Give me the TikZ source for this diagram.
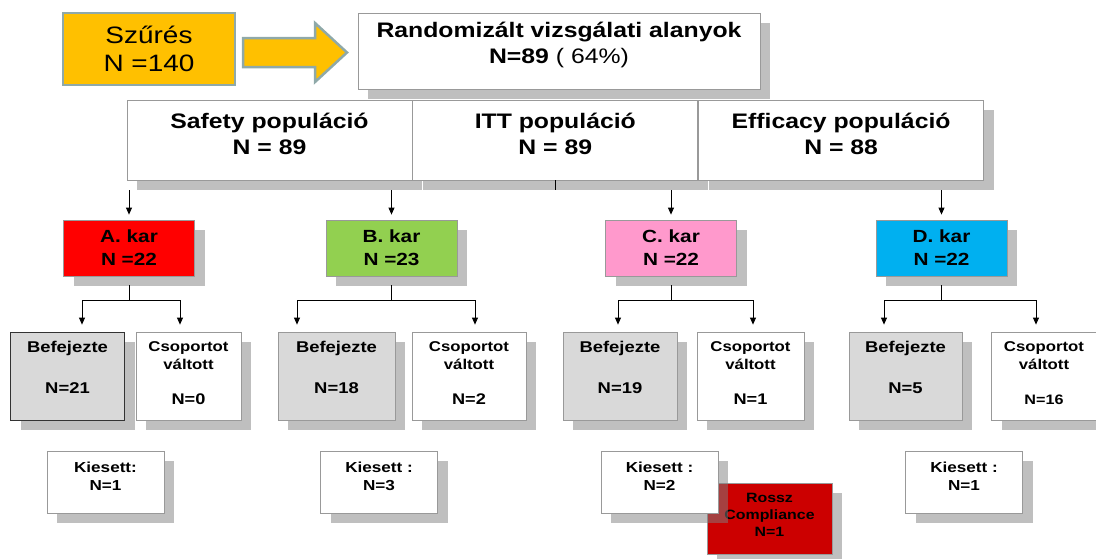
\documentclass[tikz,border=0pt]{standalone}
\usepackage{fontspec}
\setmainfont{Liberation Sans}[FakeStretch=1.18]
\usetikzlibrary{positioning,shadows,arrows.meta,calc}
\definecolor{screenfill}{HTML}{FFC000}
\definecolor{screenline}{HTML}{8FA9A9}
\definecolor{colA}{HTML}{FF0000}
\definecolor{colB}{HTML}{92D050}
\definecolor{colC}{HTML}{FF99CC}
\definecolor{colD}{HTML}{00B0F0}
\definecolor{colRossz}{HTML}{CC0000}
\definecolor{colDone}{HTML}{D9D9D9}

\begin{document}
\begin{tikzpicture}[x=1pt,y=-1pt,
  shad/.style={drop shadow={shadow xshift=10pt,shadow yshift=-10pt,fill=black!50,opacity=.5}},
  box/.style={draw=black!40,fill=white,shad,inner sep=0pt,line width=.8pt},
  popbox/.style={box,minimum width=285pt,minimum height=80pt},
  arm/.style={box,minimum width=131pt,minimum height=56pt,align=center,font=\fontsize{17.6}{23}\selectfont\bfseries},
  bef/.style={box,fill=colDone,minimum width=114pt,minimum height=88pt},
  csop/.style={box,minimum height=88pt},
  kies/.style={box,minimum width=117pt,minimum height=62pt},
  big/.style={align=center,font=\fontsize{21}{26}\selectfont\bfseries},
  befT/.style={align=center,font=\fontsize{15.6}{18.7}\selectfont\bfseries},
  csopT/.style={align=center,font=\fontsize{14.2}{18}\selectfont\bfseries},
  kiesT/.style={align=center,font=\fontsize{14.5}{18}\selectfont\bfseries},
  arr/.style={line width=.8pt,-{Triangle[width=6pt,length=7pt]}},
  link/.style={line width=.8pt}]
\useasboundingbox (0,0) rectangle (1096,558);

% screening and randomisation
\node[draw=screenline,fill=screenfill,line width=2.5pt,minimum width=172pt,minimum height=72pt,inner sep=0pt,
  align=center,font=\fontsize{23.7}{28}\selectfont] (szures) at (149,49) {Szűrés\\N =140};
\draw[draw=screenline,fill=screenfill,line width=2.5pt] (243,38) -- (315,38) -- (315,23) -- (347,52.5)
  -- (315,82) -- (315,67) -- (243,67) -- cycle;
\node[box,minimum width=402pt,minimum height=76pt] (rand) at (559,51) {};
\node[big] (randT) at ([yshift=6pt]rand) {Randomizált vizsgálati alanyok\\N=89 {\mdseries ( 64\%)}};

% populations
\node[popbox] (safety) at (269.5,140) {};
\node[popbox,right=0pt of safety] (itt) {};
\node[popbox,right=0pt of itt] (eff) {};
\node[big] (safetyT) at ([yshift=6pt]safety) {Safety populáció\\N = 89};
\node[big] (ittT) at ([yshift=6pt]itt) {ITT populáció\\N = 89};
\node[big] (effT) at ([yshift=6pt]eff) {Efficacy populáció\\N = 88};
\coordinate (popBase) at (0,190);
\draw[link] (itt.south) -- (itt.south |- popBase);

% arms
\node[arm,fill=colA] (armA) at (129,248) {A. kar\\N =22};
\node[arm,fill=colB] (armB) at (391.5,248) {B. kar\\N =23};
\node[arm,fill=colC] (armC) at (671,248) {C. kar\\N =22};
\node[arm,fill=colD] (armD) at (941.5,248) {D. kar\\N =22};
\draw[arr,shorten >=5pt] (armA |- popBase) -- (armA.north);
\draw[arr,shorten >=5pt] (armB |- popBase) -- (armB.north);
\draw[arr,shorten >=5pt] (armC |- popBase) -- (armC.north);
\draw[arr,shorten >=5pt] (armD |- popBase) -- (armD.north);

% completed / switched
\node[bef,draw=black!80] (befA) at (67.5,376) {};
\node[csop,minimum width=105pt] (csopA) at (188.5,376) {};
\node[bef,minimum width=117pt] (befB) at (336.5,376) {};
\node[csop,minimum width=114pt] (csopB) at (469,376) {};
\node[bef] (befC) at (620,376) {};
\node[csop,minimum width=107pt] (csopC) at (750.5,376) {};
\node[bef,minimum width=113pt] (befD) at (905.5,376) {};
\node[csop,minimum width=105pt] (csopD) at (1044,376) {};
\node[befT] (befAT) at ([yshift=8.5pt]befA) {Befejezte\\[22.3pt]N=21};
\node[befT] (befBT) at ([yshift=8.5pt]befB) {Befejezte\\[22.3pt]N=18};
\node[befT] (befCT) at ([yshift=8.5pt]befC) {Befejezte\\[22.3pt]N=19};
\node[befT] (befDT) at ([yshift=8.5pt]befD) {Befejezte\\[22.3pt]N=5};
\node[csopT] (csopAT) at ([yshift=2.5pt]csopA) {Csoportot\\váltott\\[17pt]\fontsize{15.4}{18}\selectfont N=0};
\node[csopT] (csopBT) at ([yshift=2.5pt]csopB) {Csoportot\\váltott\\[17pt]\fontsize{15.4}{18}\selectfont N=2};
\node[csopT] (csopCT) at ([yshift=2.5pt]csopC) {Csoportot\\váltott\\[17pt]\fontsize{15.4}{18}\selectfont N=1};
\node[csopT] (csopDT) at ([yshift=2.5pt]csopD) {Csoportot\\váltott\\[17pt]\fontsize{13.7}{18}\selectfont N=16};

\coordinate (forkA) at ([yshift=-24pt]armA.south);
\coordinate (forkB) at ([yshift=-24pt]armB.south);
\coordinate (forkC) at ([yshift=-24pt]armC.south);
\coordinate (forkD) at ([yshift=-24pt]armD.south);
\draw[link] ([yshift=-9pt]armA.south) -- (forkA);
\draw[link] ([yshift=-9pt]armB.south) -- (forkB);
\draw[link] ([yshift=-9pt]armC.south) -- (forkC);
\draw[link] ([yshift=-9pt]armD.south) -- (forkD);
\draw[arr,shorten >=7pt] (forkA) -| ([xshift=14.5pt]befA.north);
\draw[arr,shorten >=7pt] (forkA) -| ([xshift=-8.5pt]csopA.north);
\draw[arr,shorten >=7pt] (forkB) -| ([xshift=-39.5pt]befB.north);
\draw[arr,shorten >=7pt] (forkB) -| ([xshift=6pt]csopB.north);
\draw[arr,shorten >=7pt] (forkC) -| ([xshift=-2pt]befC.north);
\draw[arr,shorten >=7pt] (forkC) -| ([xshift=2.5pt]csopC.north);
\draw[arr,shorten >=7pt] (forkD) -| ([xshift=-21.5pt]befD.north);
\draw[arr,shorten >=7pt] (forkD) -| ([xshift=-8pt]csopD.north);

% drop-outs
\node[box,fill=colRossz,minimum width=125pt,minimum height=71pt] (rossz) at (769.5,518.5) {};
\node[align=center,font=\fontsize{13.5}{17}\selectfont\bfseries] (rosszT) at ([yshift=3.5pt]rossz) {Rossz\\Compliance\\N=1};
\node[kies] (kiesA) at (105.5,482) {};
\node[kies] (kiesB) at (379,482) {};
\node[kies] (kiesC) at (659.5,482) {};
\node[kies] (kiesD) at (964,482) {};
\node[kiesT] (kiesAT) at ([yshift=6pt]kiesA) {Kiesett:\\N=1};
\node[kiesT] (kiesBT) at ([yshift=6pt]kiesB) {Kiesett :\\N=3};
\node[kiesT] (kiesCT) at ([yshift=6pt]kiesC) {Kiesett :\\N=2};
\node[kiesT] (kiesDT) at ([yshift=6pt]kiesD) {Kiesett :\\N=1};
\end{tikzpicture}
\end{document}
